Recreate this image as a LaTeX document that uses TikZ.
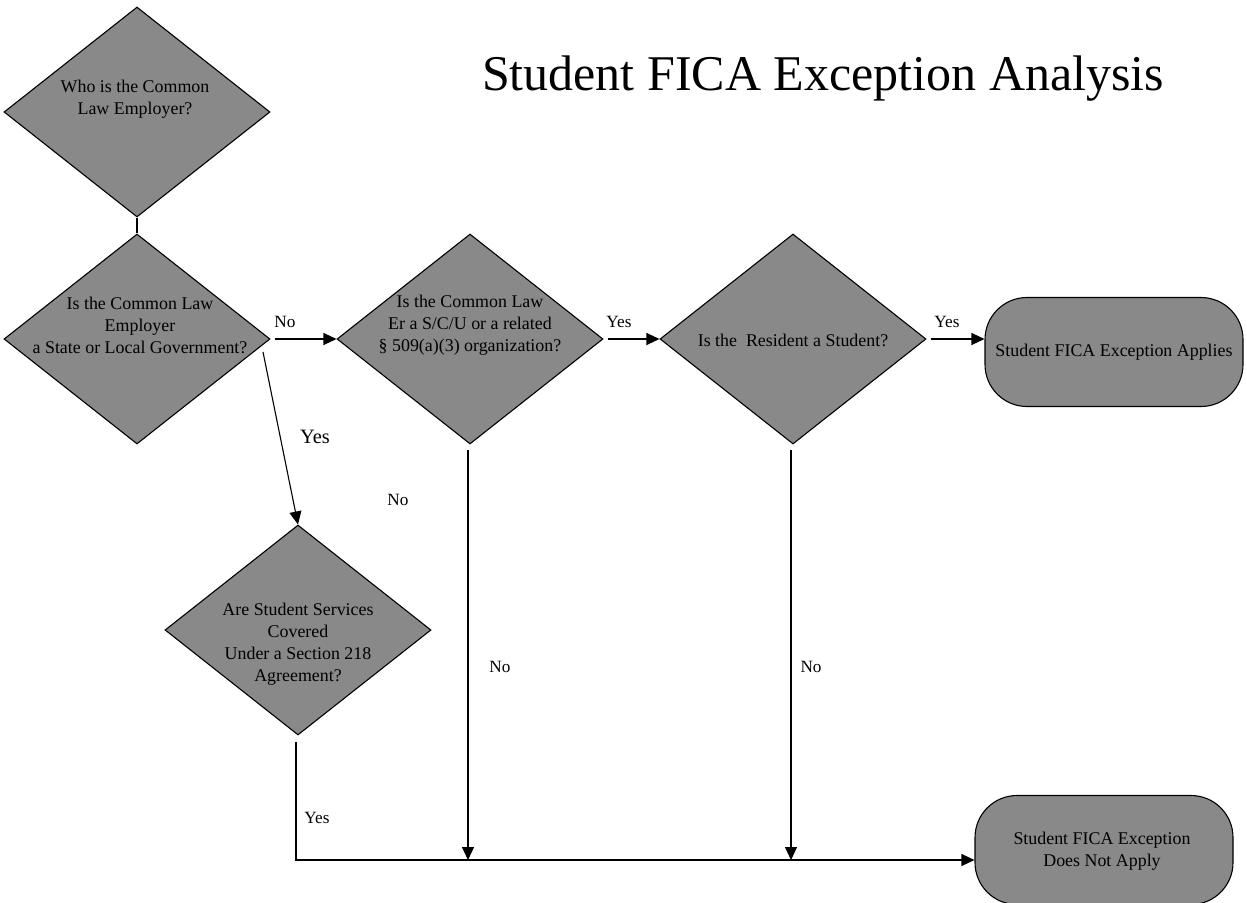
\documentclass[tikz,border=0pt]{standalone}
\usepackage{fontspec}
\setmainfont{Liberation Serif}
\usetikzlibrary{shapes.geometric,arrows.meta}
\definecolor{boxgray}{RGB}{137,137,137}
\begin{document}
\begin{tikzpicture}[x=1pt,y=-1pt,
  dia/.style={shape=diamond,draw=black,fill=boxgray,line width=1.1pt,inner sep=0pt,minimum width=266pt,minimum height=210pt},
  term/.style={shape=rectangle,draw=black,fill=boxgray,line width=1.1pt,rounded corners=42pt,minimum width=258pt,minimum height=109pt},
  txt/.style={align=center,inner sep=0pt,font=\fontsize{17.9}{22}\selectfont},
  lbl/.style={inner sep=0pt,font=\fontsize{17.2}{21}\selectfont},
  conn/.style={line width=1.1pt,draw=black},
  arr/.style={conn,-{Triangle[length=13pt,width=12pt]}}]
\useasboundingbox (0,0) rectangle (1247,902);
\fill[white] (0,0) rectangle (1247,902);

% title
\node[anchor=base,inner sep=0pt,font=\fontsize{50}{60}\selectfont] (title) at (823,90) {Student FICA Exception Analysis};

% decision shapes
\node[dia] (d1) at (137,112) {};
\node[dia] (d2) at (137,339) {};
\node[dia] (d3) at (470,339) {};
\node[dia] (d4) at (793,339) {};
\node[dia] (d5) at (298,630) {};

% terminals
\node[term] (b1) at (1114,352) {};
\node[term] (b2) at (1104,850) {};

% texts
\node[txt] (t1) at (135,99) {Who is the Common\\Law Employer?};
\node[txt] (t2) at (140,325) {Is the Common Law\\Employer\\a State or Local Government?};
\node[txt] (t3) at (470,325) {Is the Common Law\\Er a S/C/U or a related\\\S\ 509(a)(3) organization?};
\node[txt] (t4) at (793,340) {Is the\ \ Resident a Student?};
\node[txt] (t5) at (298,644) {Are Student Services\\Covered\\Under a Section 218\\Agreement?};
\node[txt] (t6) at (1114,352) {Student FICA Exception Applies};
\node[txt] (t7) at (1102,851) {Student FICA Exception\\Does Not Apply};

% connector helper points
\coordinate (c2y) at (263,352);
\coordinate (c3d) at (468,450);
\coordinate (c3e) at (468,860);
\coordinate (c4d) at (791,450);
\coordinate (c4e) at (791,860);
\coordinate (c5d) at (296,742);
\coordinate (c5c) at (296,860);

% connectors
\draw[conn] (d1.south) -- (d2.north);
\draw[arr,shorten <=4pt] (d2.east) -- (d3.west);
\draw[arr] (c2y) -- (d5.north);
\draw[arr,shorten <=4pt] (d3.east) -- (d4.west);
\draw[arr,shorten <=4pt] (d4.east) -- (d4.east -| b1.west);
\draw[arr] (c3d) -- (c3e);
\draw[arr] (c4d) -- (c4e);
\draw[arr] (c5d) -- (c5c) -- (b2.west |- c5c);

% labels
\node[lbl] (l1) at (285,322) {No};
\node[inner sep=0pt,font=\fontsize{20.4}{24}\selectfont] (l2) at (315,437) {Yes};
\node[lbl] (l3) at (398,500) {No};
\node[lbl] (l4) at (619,322) {Yes};
\node[lbl] (l5) at (947,322) {Yes};
\node[lbl] (l6) at (500,667) {No};
\node[lbl] (l7) at (811,667) {No};
\node[lbl] (l8) at (317,818) {Yes};
\end{tikzpicture}
\end{document}
